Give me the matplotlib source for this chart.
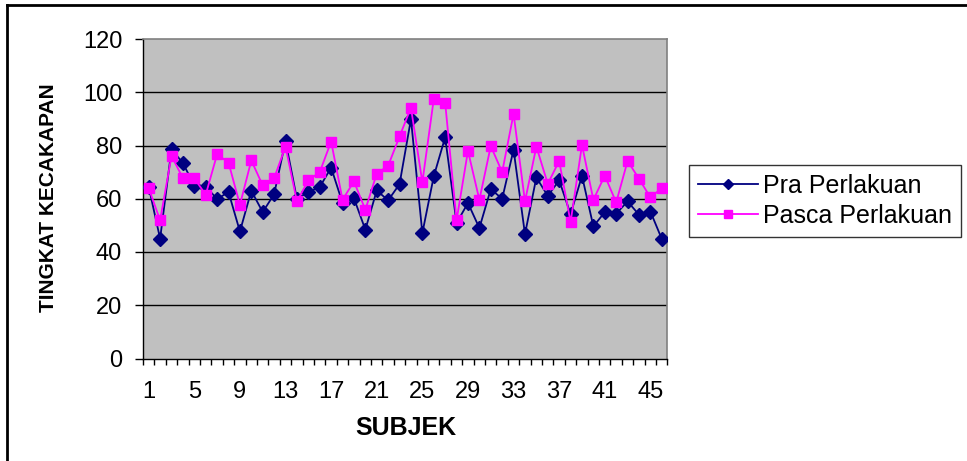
import matplotlib
matplotlib.use("Agg")
import matplotlib.pyplot as plt
from matplotlib.lines import Line2D

plt.rcParams['font.family'] = ['Liberation Sans', 'DejaVu Sans']

subjects = list(range(1, 47))
pra = [64.5, 45, 78.6, 73.4, 64.9, 64.6, 59.9, 62.5, 47.7, 63, 55, 61.7, 81.7, 59.9, 62.5, 64.4,
       71.7, 58.4, 60.2, 48.4, 63.1, 59.4, 65.5, 89.9, 47.1, 68.4, 83.1, 50.9, 58.4, 49, 63.6,
       60, 78.4, 46.7, 68, 61.1, 66.9, 54.2, 68.6, 49.6, 55, 54.4, 59, 54, 55.2, 44.9]
pasca = [64, 51.9, 76.1, 67.7, 67.7, 61.5, 76.7, 73.6, 57.7, 74.4, 65, 67.7, 79.6, 59, 66.9, 70,
         81.5, 59.6, 66.5, 55.9, 69.4, 72.4, 83.4, 94.2, 66.2, 97.4, 96.1, 51.9, 78, 59.6, 79.8,
         70, 91.9, 59, 79.6, 65.6, 74.2, 51.2, 80.2, 59.6, 68.7, 58.6, 74.2, 67.5, 60.5, 64]
xtick_labels = list(range(1, 47, 4))
yticks = [0, 20, 40, 60, 80, 100, 120]

W, H = 967, 461
fig = plt.figure(figsize=(W / 100, H / 100), dpi=100)
fig.patch.set_facecolor('white')
ax = fig.add_axes([143 / W, 1 - 358.5 / H, (667.5 - 143) / W, (358.5 - 39) / H])
ax.set_facecolor('#C0C0C0')

ax.plot(subjects, pra, color='#000080', lw=1.3, marker='D', markersize=7,
        markerfacecolor='#000080', markeredgecolor='#000080', label='Pra Perlakuan', zorder=3)
ax.plot(subjects, pasca, color='#FF00FF', lw=1.3, marker='s', markersize=7.5,
        markerfacecolor='#FF00FF', markeredgecolor='#FF00FF', label='Pasca Perlakuan', zorder=4)

ax.set_xlim(0.5, 46.5)
ax.set_ylim(0, 120)
ax.set_yticks(yticks)
ax.set_yticklabels([str(v) for v in yticks])
ax.set_xticks(xtick_labels)
ax.set_xticklabels([str(v) for v in xtick_labels])
ax.set_xticks([i + 0.5 for i in range(0, 47)], minor=True)
ax.tick_params(axis='x', which='major', length=0, pad=16, labelsize=17)
ax.tick_params(axis='x', which='minor', length=4, width=1, direction='out', color='black')
ax.tick_params(axis='y', which='major', length=6, width=1, direction='out', pad=9, labelsize=17)

for v in yticks[1:-1]:
    ax.axhline(v, color='black', lw=1, zorder=1)

for s in ['left', 'bottom']:
    ax.spines[s].set_color('black')
    ax.spines[s].set_linewidth(1)
for s in ['top', 'right']:
    ax.spines[s].set_color('#808080')
    ax.spines[s].set_linewidth(1.2)

fig.text(406 / W, 1 - 428 / H, 'SUBJEK', ha='center', va='center', fontsize=18, fontweight='bold')
fig.text(49 / W, 1 - 198 / H, 'TINGKAT KECAKAPAN', ha='center', va='center', rotation=90,
         fontsize=15, fontweight='bold')

leg = fig.legend(loc='upper left', bbox_to_anchor=(689 / W, 1 - 165 / H), borderaxespad=0,
                 fontsize=18, frameon=True, fancybox=False, edgecolor='black',
                 handlelength=2.4, handletextpad=0.2, labelspacing=0.25, borderpad=0.35,
                 markerscale=0.8)
leg.get_frame().set_linewidth(1)

fig.add_artist(Line2D([7 / W, 1], [1 - 5 / H, 1 - 5 / H], color='black', lw=2, transform=fig.transFigure))
fig.add_artist(Line2D([7 / W, 7 / W], [1 - 5 / H, 0], color='black', lw=2, transform=fig.transFigure))

fig.savefig('out.png', dpi=100)
